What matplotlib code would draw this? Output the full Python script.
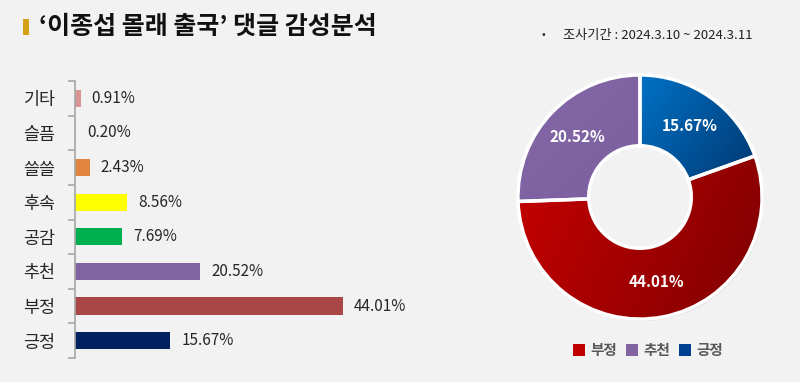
import matplotlib
matplotlib.use("Agg")
import matplotlib.pyplot as plt
import numpy as np
from matplotlib.patches import Rectangle, Patch, Wedge
import matplotlib.colors as mcolors

plt.rcParams['font.family'] = ['Noto Sans CJK KR', 'DejaVu Sans']

# ---- data ----
bar_categories = ['기타', '슬픔', '쓸쓸', '후속', '공감', '추천', '부정', '긍정']
bar_values = [0.91, 0.20, 2.43, 8.56, 7.69, 20.52, 44.01, 15.67]
bar_colors = ['#D99594', '#B4C7E7', '#E0843E', '#FFFF00', '#00B050', '#8064A2', '#A94646', '#002060']

donut_categories = ['긍정', '부정', '추천']
donut_values = [15.67, 44.01, 20.52]
legend_order = ['부정', '추천', '긍정']

title = '‘이종섭 몰래 출국’ 댓글 감성분석'
subtitle = '조사기간 : 2024.3.10 ~ 2024.3.11'

BG = '#F2F2F2'
W, H = 800, 382
fig = plt.figure(figsize=(W / 100, H / 100), dpi=100, facecolor=BG)

# ---- title ----
fig.patches.append(Rectangle((23 / W, 1 - 35 / H), 6 / W, 16 / H, transform=fig.transFigure,
                             facecolor='#D4A017', edgecolor='none'))
fig.text(39 / W, 1 - 27 / H, title, fontsize=18, fontweight='bold', color='#111111',
         va='center', ha='left')
fig.text(543 / W, 1 - 35 / H, '•', fontsize=8, color='#222222', va='center', ha='center')
fig.text(563 / W, 1 - 35 / H, subtitle, fontsize=9.5, color='#222222', va='center', ha='left')

# ---- bar chart ----
axb = fig.add_axes([75 / W, 1 - 358 / H, 345 / W, 277 / H])
axb.set_facecolor(BG)
y = np.arange(len(bar_categories))
axb.barh(y, bar_values, height=0.5, color=bar_colors, edgecolor='none')
axb.set_ylim(len(bar_categories) - 0.5, -0.5)
axb.set_xlim(0, 345 / 6.09)
for sp in ['top', 'right', 'bottom']:
    axb.spines[sp].set_visible(False)
axb.spines['left'].set_color('#A6A6A6')
axb.spines['left'].set_linewidth(1.2)
axb.set_xticks([])
axb.set_yticks(y)
axb.set_yticklabels(bar_categories, fontsize=12.5, color='#262626')
axb.tick_params(axis='y', which='major', length=0, pad=14)
axb.set_yticks(np.arange(-0.5, len(bar_categories), 1.0), minor=True)
axb.tick_params(axis='y', which='minor', length=5, color='#A6A6A6', width=1.2)
for yi, v in zip(y, bar_values):
    axb.annotate(f'{v:.2f}%', (v, yi), xytext=(8, 0), textcoords='offset points',
                 va='center', ha='left', fontsize=11, color='#262626')

# ---- donut ----
R = 124.5
axd = fig.add_axes([(640 - R) / W, (H - 197 - R) / H, 2 * R / W, 2 * R / H])
axd.set_facecolor('none')
axd.axis('off')

width = 0.58
# faint outer shadow ring
axd.add_patch(Wedge((0.012, -0.018), 1.0, 0, 360, width=0.1, facecolor='#000000',
                    alpha=0.07, edgecolor='none', zorder=0))

wedges, _ = axd.pie(donut_values, startangle=90, counterclock=False, radius=1.0,
                    wedgeprops=dict(width=width, edgecolor='white', linewidth=2.5))

grad = {
    '긍정': ('#0072C6', '#003A75', (0.0, 1.0), (1.0, 0.3)),
    '부정': ('#C20000', '#880000', (-1.0, 0.0), (0.75, -0.75)),
    '추천': ('#8467A6', '#7C5F9F', (-1.0, 1.0), (0.0, 0.0)),
}
xs = np.linspace(-1, 1, 400)
X, Y = np.meshgrid(xs, xs[::-1])
for w, name, val in zip(wedges, donut_categories, donut_values):
    c1, c2, p0, p1 = grad[name]
    d = np.array(p1) - np.array(p0)
    t = ((X - p0[0]) * d[0] + (Y - p0[1]) * d[1]) / (d @ d)
    t = np.clip(t, 0, 1)
    a = np.array(mcolors.to_rgb(c1))
    b = np.array(mcolors.to_rgb(c2))
    img = a[None, None, :] * (1 - t[..., None]) + b[None, None, :] * t[..., None]
    w.set_facecolor('none')
    im = axd.imshow(img, extent=(-1, 1, -1, 1), zorder=1, interpolation='bilinear')
    im.set_clip_path(w)
    w.set_zorder(2)
    theta = np.deg2rad((w.theta1 + w.theta2) / 2)
    r = 1 - width / 2
    axd.text(r * np.cos(theta), r * np.sin(theta), f'{val:.2f}%',
             color='white', fontsize=11, fontweight='bold', ha='center', va='center', zorder=3)
axd.set_xlim(-1.02, 1.02)
axd.set_ylim(-1.02, 1.02)
axd.set_aspect('equal')

legend_colors = {'부정': '#C00000', '추천': '#8064A2', '긍정': '#004090'}
handles = [Patch(facecolor=legend_colors[n], edgecolor='none') for n in legend_order]
leg = fig.legend(handles, legend_order, loc='center', bbox_to_anchor=(648 / W, 1 - 350 / H),
                 ncol=3, frameon=False, handlelength=0.8, handleheight=0.8, handletextpad=0.4,
                 columnspacing=0.6, prop={'size': 10.5, 'weight': 'bold'})
for t in leg.get_texts():
    t.set_color('#595959')

fig.savefig('out.png', dpi=100, facecolor=BG)
